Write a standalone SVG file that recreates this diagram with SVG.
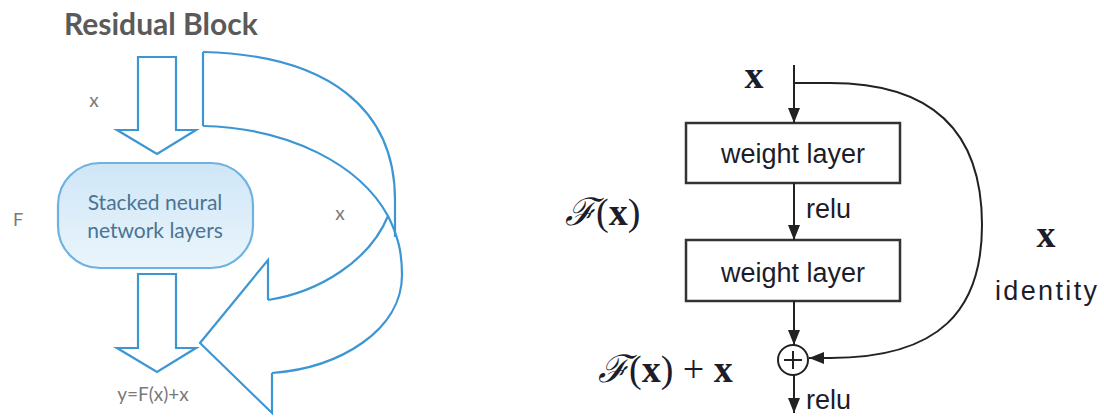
<svg xmlns="http://www.w3.org/2000/svg" width="1104" height="419" viewBox="0 0 1104 419">
<defs>
<linearGradient id="nodeFill" x1="0" y1="0" x2="0" y2="1">
<stop offset="0" stop-color="#cfe6f7"/>
<stop offset="1" stop-color="#eaf5fc"/>
</linearGradient>
<marker id="tri" markerUnits="userSpaceOnUse" markerWidth="16" markerHeight="16" viewBox="0 0 16 16" refX="15" refY="8" orient="auto">
<path d="M0,2 L15,8 L0,14 Z" fill="#222"/>
</marker>
</defs>
<style>
.blue{fill:none;stroke:#3d96d4;stroke-width:2.2;stroke-linejoin:miter}
.lbl{font-family:Lato,"Liberation Sans",sans-serif;fill:#7a7a7a}
.box{fill:#fff;stroke:#333;stroke-width:2.5}
.ln{fill:none;stroke:#222;stroke-width:2}
.cal{font-family:"Liberation Sans",Arial,sans-serif;font-size:27px;fill:#1c1c2a}
.math{font-family:"Liberation Serif","DejaVu Serif",serif;font-size:38px;fill:#1c1c2a}
</style>

<!-- Left diagram -->
<text id="title" x="64" y="35" font-family="Lato,'Liberation Sans',sans-serif" font-weight="bold" font-size="30" fill="#5a5a5a">Residual Block</text>

<g id="node-stacked">
<rect x="58" y="163" width="195" height="105" rx="42" ry="42" fill="url(#nodeFill)" stroke="#6fb2df" stroke-width="2.2"/>
<text x="155" y="210" text-anchor="middle" font-family="Lato,'Liberation Sans',sans-serif" font-size="21" fill="#4a7494">Stacked neural</text>
<text x="155" y="238" text-anchor="middle" font-family="Lato,'Liberation Sans',sans-serif" font-size="21" fill="#4a7494">network layers</text>
</g>

<g id="left-connectors">
<path class="blue" d="M138,57 L176,57 L176,130 L196,130 L157,154 L117,130 L138,130 Z"/>
<path class="blue" d="M138,274 L176,274 L176,348 L196,348 L157,372 L117,348 L138,348 Z"/>
<path class="blue" d="M203,52 L203,126"/>
<path class="blue" d="M203,52 C330,55 395,110 395,200 L395,237"/>
<path class="blue" d="M203,126 C290,128 360,165 388,216 C398,236 402,252 402,275 C402,330 340,368 272,373"/>
<path class="blue" d="M388,216 C370,260 320,292 268,300"/>
<path class="blue" d="M268,300 L268,260 L200,343 L272,413 L272,373"/>
</g>

<text id="lbl-x-top" class="lbl" x="94" y="107" font-size="19" text-anchor="middle">x</text>
<text id="lbl-F" class="lbl" x="13" y="226" font-size="18">F</text>
<text id="lbl-x-right" class="lbl" x="340" y="220" font-size="19" text-anchor="middle">x</text>
<text id="lbl-y" class="lbl" x="153" y="401" font-size="19" text-anchor="middle" fill="#858585">y=F(x)+x</text>

<!-- Right diagram -->
<g id="node-weight1">
<rect class="box" x="686" y="123" width="214" height="60"/>
<text class="cal" x="793" y="163" text-anchor="middle">weight layer</text>
</g>
<g id="node-weight2">
<rect class="box" x="686" y="240" width="214" height="61"/>
<text class="cal" x="793" y="282" text-anchor="middle">weight layer</text>
</g>
<g id="node-add">
<circle cx="793" cy="360" r="15" fill="#fff" stroke="#222" stroke-width="2"/>
<path d="M784,360 H802 M793,351 V369" stroke="#222" stroke-width="2" fill="none"/>
</g>

<g id="right-connectors">
<path class="ln" d="M794,65 L794,123" marker-end="url(#tri)"/>
<path class="ln" d="M794,183 L794,240" marker-end="url(#tri)"/>
<path class="ln" d="M794,301 L794,345" marker-end="url(#tri)"/>
<path class="ln" d="M794,375 L794,413" marker-end="url(#tri)"/>
<path class="ln" d="M794,83 L830,83 C950,83 982,150 982,225 C982,310 940,358 830,358 L809,358" marker-end="url(#tri)"/>
</g>

<text id="lbl-relu1" class="cal" x="806" y="218">relu</text>
<text id="lbl-relu2" class="cal" x="806" y="409">relu</text>
<text id="lbl-identity" class="cal" x="995" y="300" textLength="102" lengthAdjust="spacing">identity</text>

<text id="math-x-top" class="math" x="754" y="88" text-anchor="middle" font-weight="bold">x</text>
<text id="math-x-right" class="math" x="1046" y="247" text-anchor="middle" font-weight="bold">x</text>
<text id="math-Fx" class="math" x="565" y="225"><tspan font-style="italic" font-family="'DejaVu Serif',serif">ℱ</tspan>(<tspan font-weight="bold">x</tspan>)</text>
<text id="math-Fx-plus-x" class="math" x="598" y="382"><tspan font-style="italic" font-family="'DejaVu Serif',serif">ℱ</tspan>(<tspan font-weight="bold">x</tspan>) + <tspan font-weight="bold">x</tspan></text>
</svg>
